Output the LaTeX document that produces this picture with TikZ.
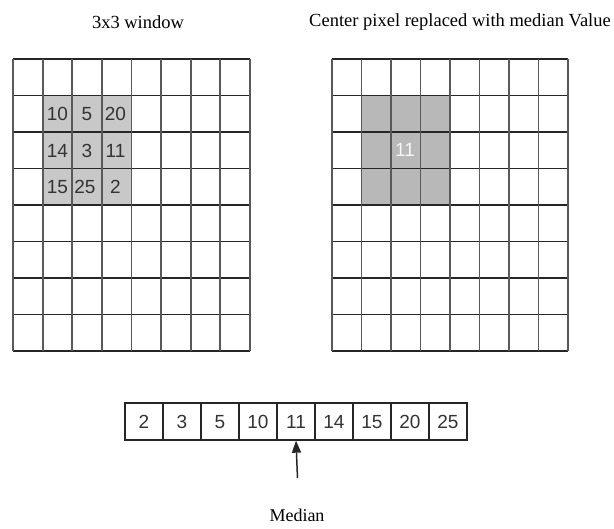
\documentclass[tikz,border=0pt]{standalone}
\usepackage{fontspec}
\setmainfont{Liberation Serif}
\setsansfont{Liberation Sans}
\usetikzlibrary{arrows.meta}
\definecolor{graya}{RGB}{200,200,200}
\definecolor{grayb}{RGB}{184,184,184}
\tikzset{
  hline/.style={line width=1.6pt, black!85},
  vline/.style={line width=1.8pt, black!65},
  title/.style={font=\fontsize{18.5}{22}\selectfont\rmfamily, inner sep=0pt},
  num/.style={font=\fontsize{19}{22}\selectfont\sffamily, text=black!80, inner sep=0pt, text height=13.6pt, text depth=0pt},
  cellbox/.style={draw=black!85, line width=1.4pt, minimum width=38pt, minimum height=37pt, inner sep=0pt, text height=13.6pt, text depth=0pt, font=\fontsize{19}{22}\selectfont\sffamily, text=black!80}
}
\begin{document}
\begin{tikzpicture}[x=1pt,y=-1pt]
\useasboundingbox (0,0) rectangle (614,529);
\fill[white] (0,0) rectangle (614,529);
% titles
\node[title] (t1) at (138,22) {3x3 window};
\node[title] (t2) at (460,22) {Center pixel replaced with median Value};
% left grid
\fill[graya] (42.6,95.5) rectangle (131.5,204);
\foreach \i in {0,...,8} \draw[hline] (13,{59+36.5*\i}) -- (250,{59+36.5*\i});
\foreach \i in {0,...,8} \draw[vline] ({13+29.625*\i},59) -- ({13+29.625*\i},351);
\node[num] (a11) at (57.4,114) {10};
\node[num] (a12) at (87,114) {5};
\node[num] (a13) at (115.5,114) {20};
\node[num] (a21) at (57.4,151) {14};
\node[num] (a22) at (87,151) {3};
\node[num] (a23) at (115.5,151) {11};
\node[num] (a31) at (57.4,187) {15};
\node[num] (a32) at (85,187) {25};
\node[num] (a33) at (115.5,187) {2};
% right grid
\fill[grayb] (361.5,95.5) rectangle (450,204);
\foreach \i in {0,...,8} \draw[hline] (332,{59+36.5*\i}) -- (568,{59+36.5*\i});
\foreach \i in {0,...,8} \draw[vline] ({332+29.5*\i},59) -- ({332+29.5*\i},351);
\node[num, text=white!92!gray] (b22) at (405,150) {11};
% sorted array
\foreach \v [count=\k] in {2,3,5,10,11,14,15,20,25}
  \node[cellbox] (c\k) at ({125+38*(\k-0.5)},421.5) {\v};
\coordinate (m) at (297.5,478);
\draw[line width=1.5pt, black!85, -{Triangle[length=12pt,width=9pt]}] (m) -- (c5.south);
\node[title, font=\fontsize{18}{21}\selectfont\rmfamily] (med) at (297,515) {Median};
\end{tikzpicture}
\end{document}
